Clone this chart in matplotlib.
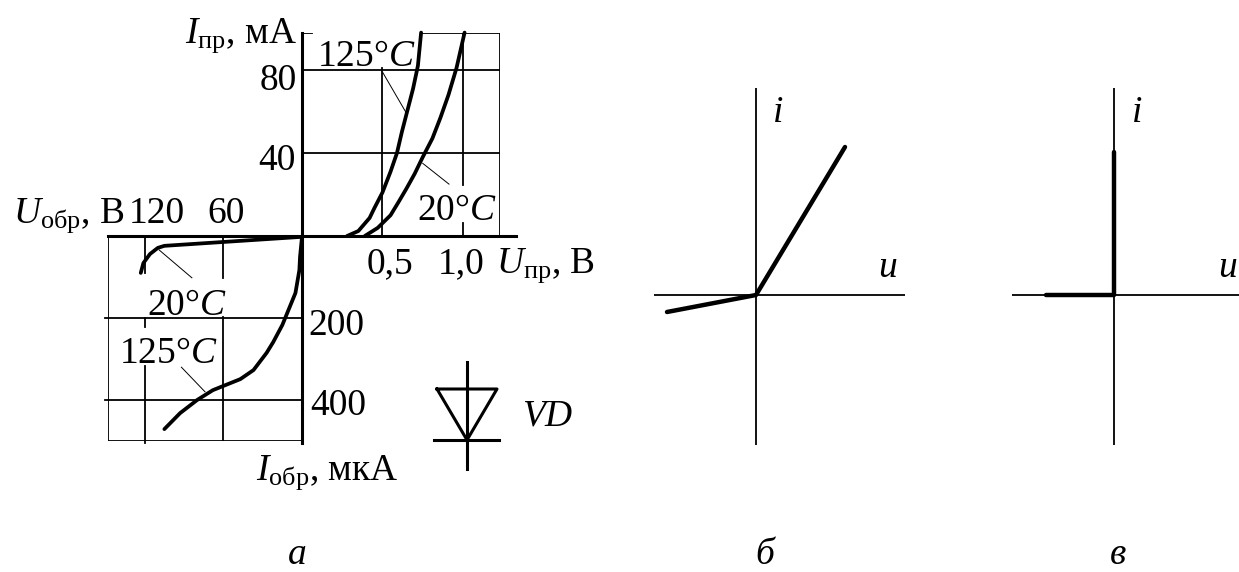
import matplotlib
matplotlib.use("Agg")
import matplotlib.pyplot as plt

W, H = 1239, 572
FONT = "Liberation Serif"
plt.rcParams["font.family"] = [FONT, "DejaVu Sans"]
plt.rcParams["mathtext.fontset"] = "custom"
plt.rcParams["mathtext.rm"] = FONT
plt.rcParams["mathtext.it"] = FONT + ":italic"
plt.rcParams["mathtext.default"] = "it"

# forward branch, volts / mA
fwd_125_v = [0.28, 0.35, 0.42, 0.45, 0.50, 0.55, 0.59, 0.62, 0.65, 0.69, 0.72, 0.74]
fwd_125_i = [0, 2.4, 8.7, 13.5, 21, 31, 40, 50, 59, 71, 82, 98]
fwd_20_v = [0.39, 0.47, 0.55, 0.60, 0.65, 0.70, 0.75, 0.81, 0.86, 0.91, 0.96, 1.01]
fwd_20_i = [0, 3.9, 10, 16.4, 23, 30, 38, 47, 57, 68, 81, 98]

# reverse branch, volts / uA
rev_20_v = [123, 121, 116, 110, 105, 0]
rev_20_i = [90, 66, 44, 29, 24, 2]
rev_125_v = [105, 93, 80, 68, 47, 37, 27, 22, 15, 5, 2, 1.5, 0]
rev_125_i = [471, 432, 400, 376, 349, 327, 285, 259, 217, 139, 83, 51, 2]

# idealised characteristics
ideal_b_u = [-89, 0, 89]
ideal_b_i = [-17, 0, 148]
ideal_c_u = [-68, 0, 0]
ideal_c_i = [0, 0, 143]

fwd_ticks_i = [40, 80]
rev_ticks_i = [200, 400]

THICK = 2.7
GRID = 1.3
AXIS = 2.2
THIN = 0.7
FS = 27


def axes_px(fig, left, top, right, bottom):
    ax = fig.add_axes([left / W, 1 - bottom / H, (right - left) / W, (bottom - top) / H])
    ax.axis("off")
    ax.patch.set_alpha(0)
    return ax


def label(fig, x, y, s, ha="left", size=FS):
    fig.text(x / W, 1 - y / H, s, ha=ha, va="baseline", fontsize=size, color="black")


fig = plt.figure(figsize=(W / 100, H / 100), dpi=100)

# quadrant I
ax = axes_px(fig, 302, 33, 500, 236)
ax.set_xlim(0, 1.23)
ax.set_ylim(0, 97.8)
ax.plot([0.5, 0.5], [0, 81], "k", lw=GRID)
ax.plot([1.0, 1.0], [0, 6.3], "k", lw=GRID)
ax.plot([1.0, 1.0], [24.6, 97.8], "k", lw=GRID)
ax.plot([1.23, 1.23], [0, 97.8], "k", lw=GRID)
for y in fwd_ticks_i:
    ax.plot([0, 1.23], [y, y], "k", lw=GRID)
ax.plot([0, 0.06], [97.8, 97.8], "k", lw=GRID)
ax.plot([0.74, 1.23], [97.8, 97.8], "k", lw=GRID)
ax.plot([0.5, 0.65], [79, 59], "k", lw=THIN)
ax.plot([0.75, 0.913], [35, 25], "k", lw=THIN)
ax.plot([0, 1.33], [0, 0], "k", lw=AXIS, clip_on=False)
ax.plot([0, 0], [0, 97.8], "k", lw=AXIS, clip_on=False)
ax.plot(fwd_125_v, fwd_125_i, "k", lw=THICK, solid_capstyle="round", clip_on=False)
ax.plot(fwd_20_v, fwd_20_i, "k", lw=THICK, solid_capstyle="round", clip_on=False)

# quadrant III
ax = axes_px(fig, 108, 236, 302, 441)
ax.set_xlim(148, 0)
ax.set_ylim(500, 0)
ax.plot([148, 148], [0, 500], "k", lw=GRID)
ax.plot([120, 120], [0, 90], "k", lw=GRID)
ax.plot([120, 120], [200, 222], "k", lw=GRID)
ax.plot([120, 120], [317, 505], "k", lw=GRID, clip_on=False)
ax.plot([60, 60], [0, 102], "k", lw=GRID)
ax.plot([60, 60], [197, 500], "k", lw=GRID)
for y in rev_ticks_i:
    ax.plot([150, 0], [y, y], "k", lw=GRID, clip_on=False)
ax.plot([148, 0], [500, 500], "k", lw=GRID)
ax.plot([109, 84], [34, 102], "k", lw=THIN)
ax.plot([92, 74], [320, 380], "k", lw=THIN)
ax.plot([148, 0], [0, 0], "k", lw=AXIS, clip_on=False)
ax.plot([0, 0], [0, 505], "k", lw=AXIS, clip_on=False)
ax.plot(rev_20_v, rev_20_i, "k", lw=THICK, solid_capstyle="round", clip_on=False)
ax.plot(rev_125_v, rev_125_i, "k", lw=THICK, solid_capstyle="round", clip_on=False)

# diode symbol
ax = axes_px(fig, 430, 355, 505, 475)
ax.set_xlim(430, 505)
ax.set_ylim(475, 355)
ax.plot([467, 467], [362, 469], "k", lw=AXIS)
ax.plot([437, 497, 467, 437], [389, 389, 440, 389], "k", lw=AXIS)
ax.plot([434, 499], [440, 440], "k", lw=AXIS)

# panel b
ax = axes_px(fig, 654, 88, 905, 445)
ax.set_xlim(-102, 149)
ax.set_ylim(-150, 207)
ax.plot([-102, 149], [0, 0], "k", lw=GRID)
ax.plot([0, 0], [-150, 207], "k", lw=GRID)
ax.plot(ideal_b_u, ideal_b_i, "k", lw=3.2, solid_capstyle="round")

# panel c
ax = axes_px(fig, 1012, 88, 1239, 445)
ax.set_xlim(-102, 125)
ax.set_ylim(-150, 207)
ax.plot([-102, 125], [0, 0], "k", lw=GRID)
ax.plot([0, 0], [-150, 207], "k", lw=GRID)
ax.plot(ideal_c_u, ideal_c_i, "k", lw=3.2, solid_capstyle="round")

# labels of panel a
label(fig, 297, 43, r"$I_{\mathrm{пр}}$, мА", ha="right")
label(fig, 297, 90, "80", ha="right")
label(fig, 296, 170, "40", ha="right")
label(fig, 13, 223, r"$U_{\mathrm{обр}}$, В")
label(fig, 129, 223, "120")
label(fig, 207, 223, "60")
label(fig, 367, 273, "0,5")
label(fig, 438, 273, "1,0")
label(fig, 496, 273, r"$U_{\mathrm{пр}}$, В")
label(fig, 417, 220, "20°$C$")
label(fig, 317, 66, "125°$C$")
label(fig, 147, 315, "20°$C$")
label(fig, 119, 363, "125°$C$")
label(fig, 308, 335, "200")
label(fig, 310, 415, "400")
label(fig, 522, 425, "$VD$")
label(fig, 256, 480, r"$I_{\mathrm{обр}}$, мкА")

# labels of panels b, c
label(fig, 772, 122, "$i$")
label(fig, 878, 277, "$u$")
label(fig, 1131, 122, "$i$")
label(fig, 1218, 277, "$u$")
label(fig, 287, 564, "$а$")
label(fig, 755, 564, "$б$")
label(fig, 1109, 564, "$в$")

fig.savefig("out.png", dpi=100, facecolor="white")
